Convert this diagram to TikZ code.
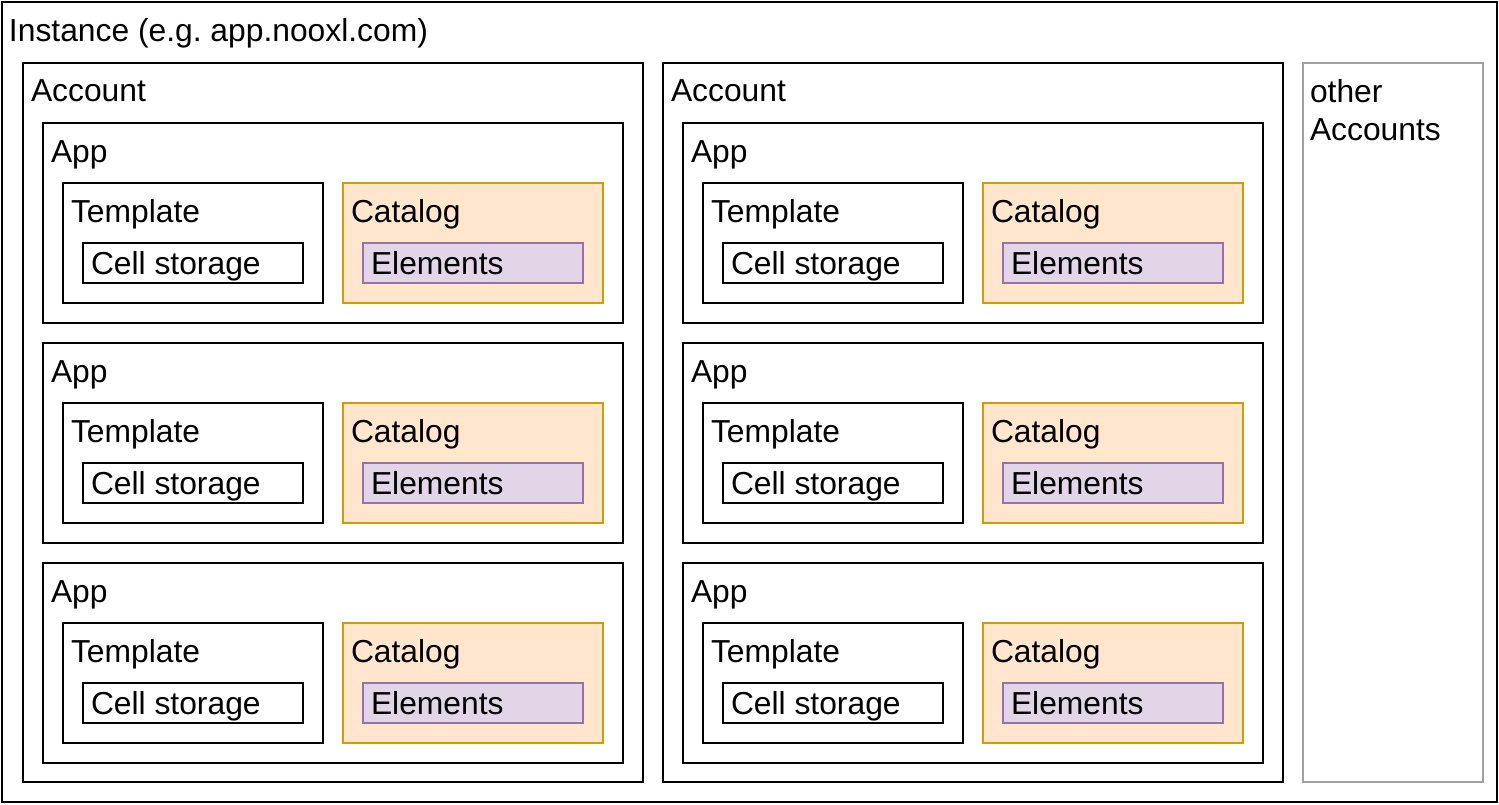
\documentclass[tikz,border=0pt]{standalone}
\usepackage{fontspec}
\setmainfont{Liberation Sans}
\frenchspacing
\definecolor{catfill}{HTML}{FFE6CC}
\definecolor{catstroke}{HTML}{D79B00}
\definecolor{elfill}{HTML}{E1D5E7}
\definecolor{elstroke}{HTML}{9673A6}
\definecolor{grstroke}{HTML}{A0A0A0}
\begin{document}
\begin{tikzpicture}[x=1pt,y=-1pt,
  box/.style={draw=black, line width=2pt, fill=white, inner sep=0pt, outer sep=0pt, anchor=north west, rectangle},
  catbox/.style={box, draw=catstroke, fill=catfill},
  elbox/.style={box, draw=elstroke, fill=elfill},
  grbox/.style={box, draw=grstroke},
  lbl/.style={anchor=base west, inner sep=0pt, outer sep=0pt, font=\fontsize{31.8}{37}\selectfont\frenchspacing, align=left},
]
\useasboundingbox (0,0) rectangle (1499,804);
\node[box, minimum width=1495pt, minimum height=800pt] (inst) at (2,2) {};
\node[lbl] (inst-t) at (9,41) {Instance (e.g. app.nooxl.com)};
\foreach \ax [count=\a] in {23,663} {
  \node[box, minimum width=620pt, minimum height=719pt] (acc\a) at (\ax,63) {};
  \node[lbl] (acc\a-t) at (\ax+8,101) {Account};
  \foreach \ay [count=\i] in {123,343,563} {
    \node[box, minimum width=580pt, minimum height=200pt] (app\a-\i) at (\ax+20,\ay) {};
    \node[lbl] (app\a-\i-t) at (\ax+28,\ay+39) {App};
    \node[box, minimum width=260pt, minimum height=120pt] (tpl\a-\i) at (\ax+40,\ay+60) {};
    \node[lbl] (tpl\a-\i-t) at (\ax+48,\ay+99) {Template};
    \node[box, minimum width=220pt, minimum height=40pt] (cs\a-\i) at (\ax+60,\ay+120) {};
    \node[lbl] (cs\a-\i-t) at (\ax+68,\ay+151) {Cell storage};
    \node[catbox, minimum width=260pt, minimum height=120pt] (cat\a-\i) at (\ax+320,\ay+60) {};
    \node[lbl] (cat\a-\i-t) at (\ax+328,\ay+99) {Catalog};
    \node[elbox, minimum width=220pt, minimum height=40pt] (el\a-\i) at (\ax+340,\ay+120) {};
    \node[lbl] (el\a-\i-t) at (\ax+348,\ay+151) {Elements};
  }
}
\node[grbox, minimum width=180pt, minimum height=719pt] (oth) at (1303,63) {};
\node[lbl] (oth-t) at (1310,102) {other};
\node[lbl] (oth-t2) at (1310,140) {Accounts};
\end{tikzpicture}
\end{document}
